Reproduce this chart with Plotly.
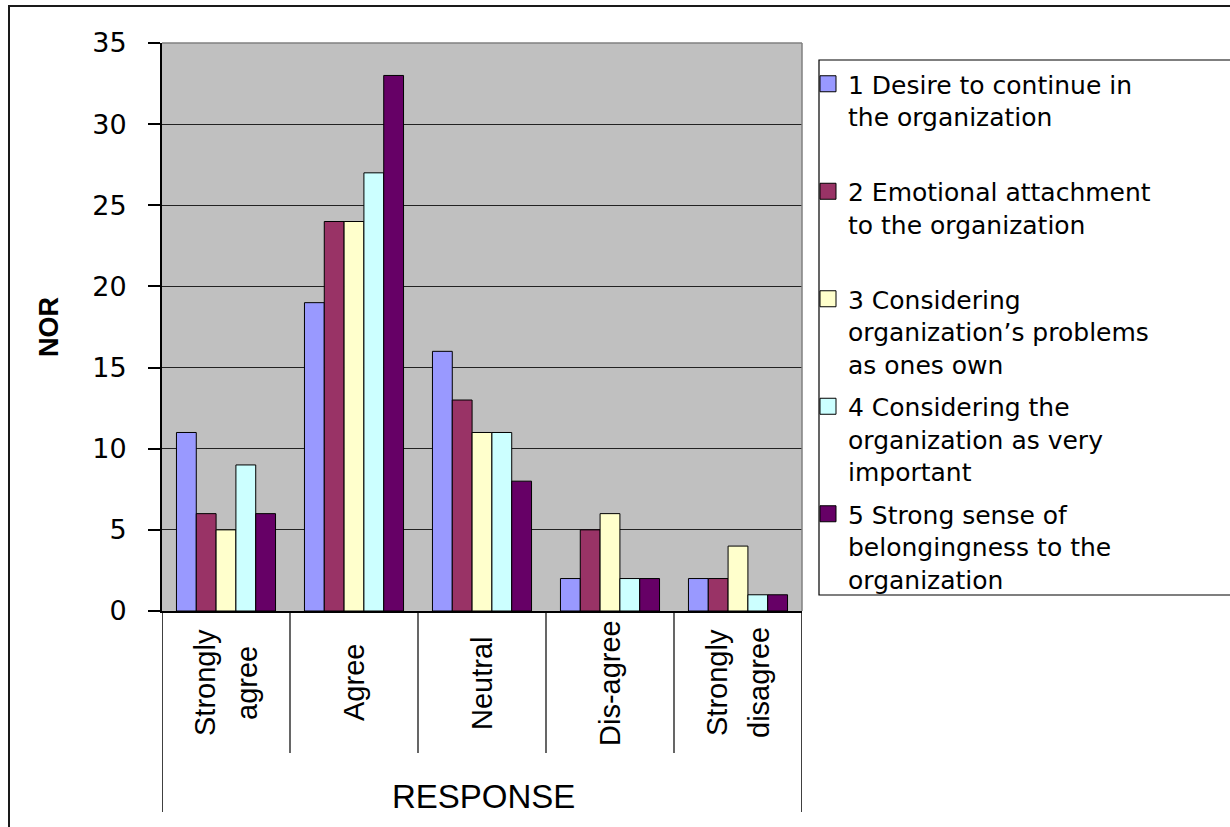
import plotly.graph_objects as go

# Response categories (x axis) and the five commitment statements (series)
categories = ["Strongly<br>agree", "Agree", "Neutral", "Dis-agree", "Strongly<br>disagree"]
series_names = [
    "1 Desire to continue in<br>the organization<br> ",
    "2 Emotional attachment<br>to the organization<br> ",
    "3 Considering<br>organization\u2019s problems<br>as ones own",
    "4 Considering the<br>organization as very<br>important",
    "5 Strong sense of<br>belongingness to the<br>organization",
]
desire_to_continue = [11, 19, 16, 2, 2]
emotional_attachment = [6, 24, 13, 5, 2]
problems_as_own = [5, 24, 11, 6, 4]
very_important = [9, 27, 11, 2, 1]
sense_of_belonging = [6, 33, 8, 2, 1]
y_ticks = [0, 5, 10, 15, 20, 25, 30, 35]

series_values = [desire_to_continue, emotional_attachment, problems_as_own,
                 very_important, sense_of_belonging]
colors = ["#9999FF", "#993366", "#FFFFCC", "#CCFFFF", "#660066"]

W, H = 1230, 827
L, R, T, B = 162, 802, 43, 611          # plot area in pixels
PW, PH = R - L, B - T


def px_x(px):
    return (px - L) / PW


def px_y(py):
    return (B - py) / PH


fig = go.Figure()
for i, (name, vals, color) in enumerate(zip(series_names, series_values, colors)):
    fig.add_bar(x=list(range(len(categories))), y=vals, name=name,
                legendgroup=f"s{i}", showlegend=False,
                marker=dict(color=color, line=dict(color="black", width=1)))
    # legend entry with a larger square swatch
    fig.add_scatter(x=[None], y=[None], mode="markers", name=name,
                    legendgroup=f"s{i}", showlegend=True,
                    marker=dict(symbol="square", size=16, color=color,
                                line=dict(color="black", width=1)))

shapes = []
# gray border on top and right edge of the plot area
shapes.append(dict(type="line", xref="paper", yref="paper", x0=0, x1=1, y0=1, y1=1,
                   line=dict(color="#808080", width=1.5), layer="above"))
shapes.append(dict(type="line", xref="paper", yref="paper", x0=1, x1=1, y0=0, y1=1,
                   line=dict(color="#808080", width=1.5), layer="above"))
# category separators under the axis
for i in range(len(categories) - 1):
    shapes.append(dict(type="line", xref="x", yref="paper", x0=i + 0.5, x1=i + 0.5,
                       y0=0, y1=px_y(753), line=dict(color="black", width=1.2)))
# outer sides of the category box
for xv in (-0.5, len(categories) - 0.5):
    shapes.append(dict(type="line", xref="x", yref="paper", x0=xv, x1=xv,
                       y0=0, y1=px_y(812), line=dict(color="black", width=1.5)))
# legend frame
shapes.append(dict(type="rect", xref="paper", yref="paper",
                   x0=px_x(819), x1=px_x(1260), y0=px_y(595), y1=px_y(60),
                   line=dict(color="black", width=1.2)))
# chart frame
shapes.append(dict(type="rect", xref="paper", yref="paper",
                   x0=px_x(9), x1=px_x(1260), y0=px_y(860), y1=px_y(6),
                   line=dict(color="#1a1a1a", width=2)))

annotations = [
    dict(text="<b>NOR</b>", xref="paper", yref="paper", x=px_x(49), y=px_y(327),
         textangle=-90, showarrow=False, xanchor="center", yanchor="middle",
         font=dict(family="Liberation Sans", size=27, color="black")),
    dict(text="RESPONSE", xref="paper", yref="paper", x=px_x(483), y=px_y(796),
         showarrow=False, xanchor="center", yanchor="middle",
         font=dict(family="Liberation Sans", size=33, color="black")),
]

# rotated category labels, each line centred in its category box
LINE_STEP = 42
for i, cat in enumerate(categories):
    lines = cat.split("<br>")
    for j, line in enumerate(lines):
        annotations.append(dict(
            text=line, xref="x", yref="paper", x=i, y=px_y(683),
            xshift=(j - (len(lines) - 1) / 2) * LINE_STEP,
            textangle=-90, showarrow=False, xanchor="center", yanchor="middle",
            font=dict(family="Liberation Sans", size=29, color="black")))

fig.update_layout(
    width=W, height=H,
    margin=dict(l=L, r=W - R, t=T, b=H - B, pad=0),
    paper_bgcolor="white",
    plot_bgcolor="#C0C0C0",
    barmode="group",
    bargap=0.226,
    bargroupgap=0,
    showlegend=True,
    legend=dict(x=px_x(808), y=px_y(61), xanchor="left", yanchor="top",
                font=dict(family="DejaVu Sans", size=25, color="black"),
                bgcolor="rgba(0,0,0,0)", borderwidth=0, valign="top",
                tracegroupgap=7, traceorder="grouped", itemsizing="trace"),
    shapes=shapes,
    annotations=annotations,
)

fig.update_yaxes(
    range=[0, 35], tickvals=y_ticks, ticktext=[str(v) for v in y_ticks],
    showgrid=True, gridcolor="#222222", gridwidth=1.2,
    zeroline=False, showline=True, linecolor="black", linewidth=2,
    ticks="outside", ticklen=12, tickwidth=1.5, tickcolor="black",
    ticklabelstandoff=16,
    tickfont=dict(family="DejaVu Sans", size=27, color="black"),
)
fig.update_xaxes(
    range=[-0.5, len(categories) - 0.5],
    showgrid=False, zeroline=False, showline=True, linecolor="black", linewidth=2,
    ticks="", showticklabels=False,
)

fig.write_html("out.html")
